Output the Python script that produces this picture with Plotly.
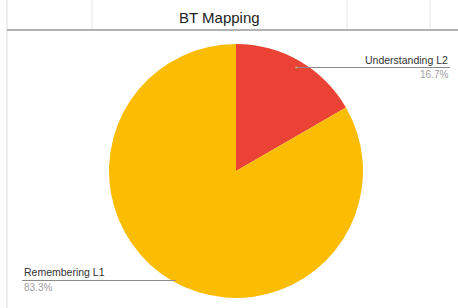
import math
import plotly.graph_objects as go

labels = ["Understanding L2", "Remembering L1"]
values = [1, 5]
colors = ["#EA4335", "#FBBC04"]
title_text = "BT Mapping"

W, H = 458, 308
cx, cy, r = 236, 171, 127

def px(x):
    return x / W

def py(y):
    return 1 - y / H

fig = go.Figure(go.Pie(
    labels=labels, values=values, sort=False, direction="clockwise",
    rotation=0, marker=dict(colors=colors, line=dict(width=0)),
    textinfo="none", hoverinfo="label+percent", showlegend=False,
    domain=dict(x=[px(cx - r), px(cx + r)], y=[py(cy + r), py(cy - r)]),
))

shapes = []
annotations = []
# spreadsheet cell grid / chart frame
for gx in [92, 347, 430]:
    shapes.append(dict(type="line", xref="paper", yref="paper", x0=px(gx), x1=px(gx),
                       y0=py(0), y1=py(30), line=dict(color="#e6e6e6", width=1)))
shapes.append(dict(type="line", xref="paper", yref="paper", x0=px(7), x1=px(7),
                   y0=py(0), y1=py(308), line=dict(color="#dcdcdc", width=1)))
shapes.append(dict(type="line", xref="paper", yref="paper", x0=px(7), x1=px(458),
                   y0=py(30), y1=py(30), line=dict(color="#9a9a9a", width=1.5)))

total = sum(values)
cum = 0
text_sides = [(450, "right"), (22, "left")]
for i, (lab, v) in enumerate(zip(labels, values)):
    mid = (cum + v / 2) / total * 2 * math.pi
    cum += v
    ax = cx + 0.95 * r * math.sin(mid)
    ay = cy - 0.95 * r * math.cos(mid)
    ly = ay + (1 if i == 0 else 5)
    ex, align = text_sides[i]
    shapes.append(dict(type="line", xref="paper", yref="paper", x0=px(ax), x1=px(ex),
                       y0=py(ly), y1=py(ly), line=dict(color="#8a8a8a", width=1)))
    if i == 0:
        shapes.append(dict(type="circle", xref="paper", yref="paper",
                           x0=px(ax - 1.2), x1=px(ax + 1.2), y0=py(ly + 1.2), y1=py(ly - 1.2),
                           fillcolor="#c9a060", line=dict(width=0)))
    pct = f"{v / total * 100:.1f}%"
    xanchor = "right" if align == "right" else "left"
    annotations.append(dict(x=px(ex), y=py(ly - 8), xref="paper", yref="paper",
                            text=lab, showarrow=False, xanchor=xanchor, yanchor="middle",
                            font=dict(family="Liberation Sans, Arial", size=10.5, color="#333333")))
    annotations.append(dict(x=px(ex), y=py(ly + 7), xref="paper", yref="paper",
                            text=pct, showarrow=False, xanchor=xanchor, yanchor="middle",
                            font=dict(family="Liberation Sans, Arial", size=10, color="#a0a0a0")))

annotations.append(dict(x=px(219), y=py(17), xref="paper", yref="paper", text=title_text,
                        showarrow=False, xanchor="center", yanchor="middle",
                        font=dict(family="Liberation Sans, Arial", size=15, color="#222222")))

fig.update_layout(width=W, height=H, margin=dict(l=0, r=0, t=0, b=0),
                  paper_bgcolor="white", plot_bgcolor="white",
                  shapes=shapes, annotations=annotations)
fig.write_html("out.html", config={"displayModeBar": False},
               post_script="document.body.style.margin='0';document.body.style.overflow='hidden';")
